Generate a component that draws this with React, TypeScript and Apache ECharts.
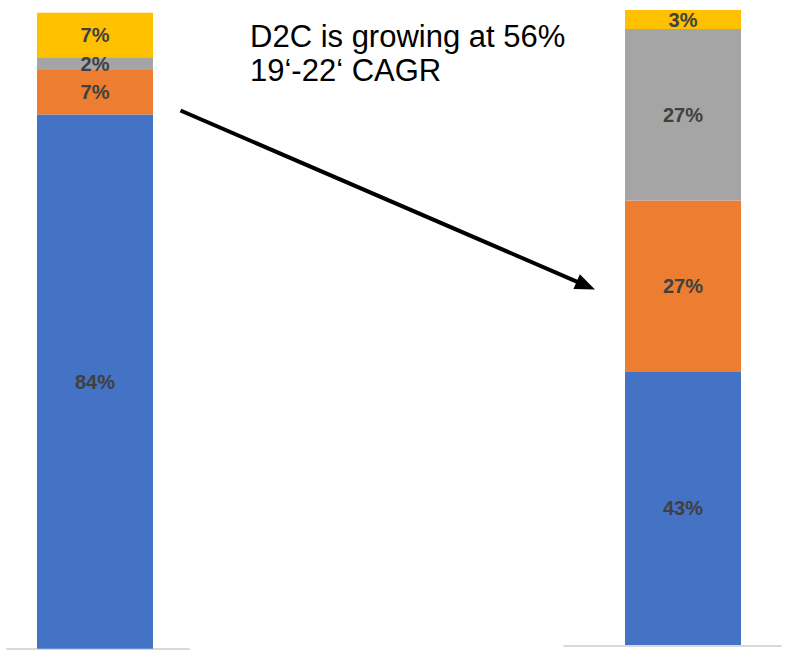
import React, { useEffect, useRef } from "react";
import * as echarts from "echarts";

// Channel share of sales, 2019 vs 2022 (percent)
const years = ["2019", "2022"];
const segmentNames = ["Segment 1", "Segment 2", "Segment 3", "Segment 4"];
const segmentColors = ["#4472C4", "#ED7D31", "#A5A5A5", "#FFC000"];
const share2019 = [84, 7, 2, 7];
const share2022 = [43, 27, 27, 3];

const headline = ["D2C is growing at 56%", "19‘-22‘ CAGR"];

const LABEL_FONT = "Liberation Sans";

function arrowGraphic(x1: number, y1: number, x2: number, y2: number) {
  const dx = x2 - x1;
  const dy = y2 - y1;
  const len = Math.sqrt(dx * dx + dy * dy);
  const ux = dx / len;
  const uy = dy / len;
  const headLen = 20;
  const headHalf = 8;
  const bx = x2 - ux * headLen;
  const by = y2 - uy * headLen;
  const px = -uy;
  const py = ux;
  return {
    type: "group",
    children: [
      {
        type: "line",
        shape: { x1, y1, x2: bx + ux * 2, y2: by + uy * 2 },
        style: { stroke: "#000", lineWidth: 4 },
      },
      {
        type: "polygon",
        shape: {
          points: [
            [x2, y2],
            [bx + px * headHalf, by + py * headHalf],
            [bx - px * headHalf, by - py * headHalf],
          ],
        },
        style: { fill: "#000" },
      },
    ],
  };
}

export default function App() {
  const ref = useRef<HTMLDivElement>(null);

  useEffect(() => {
    if (!ref.current) return;
    const chart = echarts.init(ref.current, undefined, { renderer: "svg" });

    const shares = [share2019, share2022];

    const series: any[] = [];
    shares.forEach((yearShares, gi) => {
      yearShares.forEach((v, si) => {
        series.push({
          type: "bar",
          name: segmentNames[si],
          stack: "share" + gi,
          xAxisIndex: gi,
          yAxisIndex: gi,
          barWidth: "100%",
          data: [v],
          itemStyle: { color: segmentColors[si] },
          label: {
            show: true,
            position: "inside",
            formatter: "{c}%",
            color: "#404040",
            fontWeight: "bold",
            fontSize: 20,
            fontFamily: LABEL_FONT,
          },
        });
      });
    });

    const barGrids = [
      { left: 37, top: 12.7, width: 116, height: 636 },
      { left: 625, top: 10, width: 116, height: 635 },
    ];
    const baseGrids = [
      { left: 7, top: 600, width: 182, height: 49 },
      { left: 564, top: 600, width: 217, height: 45.7 },
    ];

    const barXAxes = years.map((y, i) => ({
      type: "category",
      gridIndex: i,
      data: [y],
      show: false,
    }));
    const baseXAxes = years.map((y, i) => ({
      type: "category",
      gridIndex: 2 + i,
      data: [y],
      axisLine: { show: true, lineStyle: { color: "#D9D9D9", width: 2 } },
      axisTick: { show: false },
      axisLabel: { show: false },
      splitLine: { show: false },
    }));
    const yAxes = [0, 1, 2, 3].map((i) => ({
      type: "value",
      gridIndex: i,
      min: 0,
      max: 100,
      show: false,
    }));

    chart.setOption({
      animation: false,
      backgroundColor: "#ffffff",
      grid: [...barGrids, ...baseGrids],
      xAxis: [...barXAxes, ...baseXAxes],
      yAxis: yAxes,
      series,
      graphic: [
        {
          type: "text",
          x: 250,
          y: 36.3,
          style: {
            text: headline[0],
            fill: "#000",
            fontSize: 31,
            fontFamily: LABEL_FONT,
            verticalAlign: "middle",
          },
        },
        {
          type: "text",
          x: 250,
          y: 70.3,
          style: {
            text: headline[1],
            fill: "#000",
            fontSize: 31,
            fontFamily: LABEL_FONT,
            verticalAlign: "middle",
          },
        },
        arrowGraphic(180.5, 110.5, 595, 289.5),
      ],
    });

    return () => chart.dispose();
  }, []);

  return (
    <div
      ref={ref}
      style={{
        position: "fixed",
        left: 0,
        top: 0,
        width: 794,
        height: 656,
        background: "#fff",
      }}
    />
  );
}
